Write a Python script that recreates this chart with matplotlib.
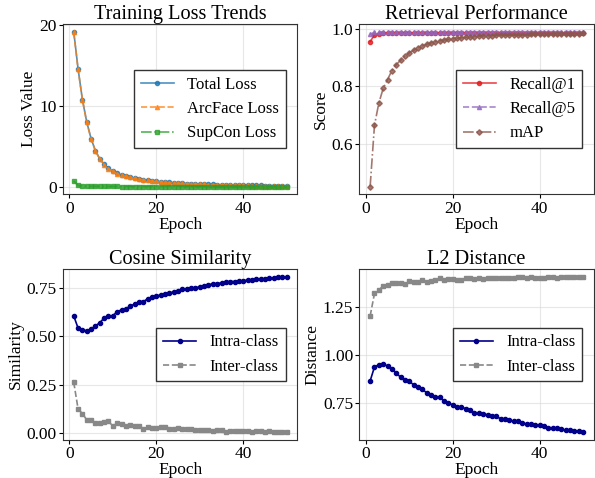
import numpy as np
import matplotlib
matplotlib.use("Agg")
import matplotlib.pyplot as plt

plt.rcParams['font.family'] = ['Liberation Serif', 'DejaVu Serif']

epochs = list(range(1, 51))

total_loss = [19.2, 14.6, 10.8, 8.0, 5.95, 4.45, 3.45, 2.78, 2.27, 1.93,
              1.65, 1.45, 1.30, 1.17, 1.06, 0.96, 0.88, 0.80, 0.73, 0.67,
              0.62, 0.57, 0.53, 0.49, 0.46, 0.43, 0.40, 0.38, 0.35, 0.33,
              0.31, 0.29, 0.28, 0.26, 0.25, 0.24, 0.22, 0.21, 0.20, 0.19,
              0.18, 0.17, 0.16, 0.16, 0.15, 0.14, 0.14, 0.13, 0.13, 0.12]
arcface_loss = [19.1, 14.55, 10.75, 7.96, 5.92, 4.42, 3.42, 2.75, 2.25, 1.91,
                1.63, 1.43, 1.28, 1.15, 1.04, 0.94, 0.86, 0.78, 0.71, 0.65,
                0.60, 0.55, 0.51, 0.47, 0.44, 0.41, 0.38, 0.36, 0.33, 0.31,
                0.29, 0.27, 0.26, 0.24, 0.23, 0.22, 0.20, 0.19, 0.18, 0.17,
                0.16, 0.15, 0.14, 0.14, 0.13, 0.12, 0.12, 0.11, 0.11, 0.10]
supcon_loss = [0.72, 0.16, 0.09, 0.07, 0.06, 0.05, 0.05, 0.04, 0.04, 0.04,
               0.04, 0.03, 0.03, 0.03, 0.03, 0.03, 0.03, 0.03, 0.03, 0.03,
               0.03, 0.03, 0.03, 0.03, 0.02, 0.02, 0.02, 0.02, 0.02, 0.02,
               0.02, 0.02, 0.02, 0.02, 0.02, 0.02, 0.02, 0.02, 0.02, 0.02,
               0.02, 0.02, 0.02, 0.02, 0.02, 0.02, 0.02, 0.02, 0.02, 0.02]

recall1 = [0.956, 0.980, 0.984, 0.985, 0.985, 0.986, 0.986, 0.986, 0.986, 0.986,
           0.986, 0.986, 0.986, 0.986, 0.986, 0.986, 0.986, 0.986, 0.986, 0.986,
           0.986, 0.986, 0.986, 0.986, 0.986, 0.986, 0.986, 0.986, 0.986, 0.986,
           0.986, 0.986, 0.986, 0.986, 0.986, 0.986, 0.986, 0.986, 0.986, 0.986,
           0.986, 0.986, 0.986, 0.986, 0.986, 0.986, 0.986, 0.986, 0.986, 0.986]
recall5 = [0.982, 0.989, 0.990, 0.991, 0.991, 0.991, 0.991, 0.991, 0.991, 0.991,
           0.991, 0.991, 0.991, 0.991, 0.991, 0.991, 0.991, 0.991, 0.991, 0.991,
           0.991, 0.991, 0.991, 0.991, 0.991, 0.991, 0.991, 0.991, 0.991, 0.991,
           0.991, 0.991, 0.991, 0.991, 0.991, 0.991, 0.991, 0.991, 0.991, 0.991,
           0.991, 0.991, 0.991, 0.991, 0.991, 0.991, 0.991, 0.991, 0.991, 0.991]
map_score = [0.451, 0.665, 0.742, 0.793, 0.824, 0.855, 0.876, 0.891, 0.906, 0.917,
             0.926, 0.934, 0.941, 0.947, 0.952, 0.956, 0.959, 0.962, 0.964, 0.966,
             0.968, 0.970, 0.971, 0.972, 0.974, 0.975, 0.976, 0.977, 0.977, 0.978,
             0.979, 0.979, 0.980, 0.980, 0.981, 0.981, 0.981, 0.982, 0.982, 0.982,
             0.983, 0.983, 0.983, 0.983, 0.984, 0.984, 0.984, 0.984, 0.984, 0.985]

cos_intra = [0.606, 0.543, 0.535, 0.528, 0.538, 0.554, 0.571, 0.595, 0.604, 0.607,
             0.628, 0.637, 0.642, 0.658, 0.666, 0.680, 0.680, 0.694, 0.703, 0.708,
             0.715, 0.718, 0.725, 0.730, 0.737, 0.743, 0.744, 0.748, 0.753, 0.755,
             0.763, 0.767, 0.772, 0.773, 0.777, 0.780, 0.784, 0.784, 0.786, 0.788,
             0.791, 0.793, 0.795, 0.796, 0.798, 0.802, 0.803, 0.805, 0.807, 0.807]
cos_inter = [0.263, 0.125, 0.100, 0.068, 0.065, 0.052, 0.052, 0.057, 0.061, 0.035,
             0.050, 0.047, 0.035, 0.043, 0.035, 0.038, 0.019, 0.031, 0.026, 0.024,
             0.031, 0.029, 0.019, 0.019, 0.026, 0.023, 0.021, 0.019, 0.017, 0.014,
             0.017, 0.014, 0.012, 0.014, 0.014, 0.007, 0.009, 0.009, 0.009, 0.012,
             0.009, 0.007, 0.010, 0.012, 0.007, 0.009, 0.007, 0.005, 0.005, 0.005]

l2_intra = [0.866, 0.939, 0.950, 0.953, 0.944, 0.929, 0.908, 0.885, 0.873, 0.866,
            0.845, 0.833, 0.822, 0.805, 0.794, 0.782, 0.784, 0.761, 0.751, 0.742,
            0.733, 0.732, 0.721, 0.713, 0.702, 0.699, 0.696, 0.690, 0.683, 0.682,
            0.670, 0.666, 0.661, 0.657, 0.656, 0.647, 0.643, 0.642, 0.638, 0.637,
            0.630, 0.623, 0.623, 0.620, 0.615, 0.610, 0.611, 0.606, 0.605, 0.601]
l2_inter = [1.203, 1.320, 1.337, 1.360, 1.363, 1.374, 1.375, 1.372, 1.368, 1.386,
            1.379, 1.381, 1.388, 1.382, 1.386, 1.388, 1.398, 1.391, 1.395, 1.393,
            1.389, 1.391, 1.398, 1.398, 1.393, 1.398, 1.397, 1.398, 1.399, 1.401,
            1.399, 1.400, 1.402, 1.400, 1.404, 1.403, 1.402, 1.403, 1.402, 1.401,
            1.402, 1.404, 1.403, 1.402, 1.404, 1.404, 1.405, 1.405, 1.405, 1.405]

fig, axes = plt.subplots(2, 2, figsize=(5.95, 4.78), dpi=100)
plt.subplots_adjust(left=0.106, right=0.998, top=0.95, bottom=0.08, wspace=0.265, hspace=0.44)


def style(ax, title, ylabel):
    ax.set_title(title, fontsize=14.6, pad=3)
    ax.set_xlabel('Epoch', fontsize=12.5, labelpad=0)
    ax.set_ylabel(ylabel, fontsize=12.5, labelpad=2)
    ax.tick_params(labelsize=12.5, length=3, pad=1.5)
    ax.grid(True, color='#dddddd', linewidth=0.8, alpha=0.7)
    for s in ax.spines.values():
        s.set_color('#333333')
    leg = ax.legend(fontsize=12, loc='center right', fancybox=False,
                    edgecolor='#333333', framealpha=1, handlelength=2.0,
                    borderaxespad=0.7)
    leg.get_frame().set_linewidth(1.0)


ms = 3
lw = 1.2
ax = axes[0, 0]
ax.plot(epochs, total_loss, '-', marker='o', color='#1f77b4', ms=ms, lw=lw, label='Total Loss', alpha=0.8)
ax.plot(epochs, arcface_loss, '--', marker='^', color='#ff7f0e', ms=ms, lw=lw, label='ArcFace Loss', alpha=0.8)
ax.plot(epochs, supcon_loss, '-.', marker='s', color='#2ca02c', ms=ms, lw=lw, label='SupCon Loss', alpha=0.8)
ax.set_yticks([0, 10, 20])
style(ax, 'Training Loss Trends', 'Loss Value')

ax = axes[0, 1]
ax.plot(epochs, recall1, '-', marker='o', color='#e41a1c', ms=ms, lw=lw, label='Recall@1', alpha=0.8)
ax.plot(epochs, recall5, '--', marker='^', color='#9467bd', ms=ms, lw=lw, label='Recall@5', alpha=0.8)
ax.plot(epochs, map_score, '-.', marker='D', color='#8c564b', ms=2.8, lw=lw, label='mAP', alpha=0.8)
ax.set_yticks([0.6, 0.8, 1.0])
style(ax, 'Retrieval Performance', 'Score')

ax = axes[1, 0]
ax.plot(epochs, cos_intra, '-', marker='o', color='#00008b', ms=ms, lw=lw, label='Intra-class')
ax.plot(epochs, cos_inter, '--', marker='s', color='#888888', ms=ms, lw=lw, label='Inter-class')
ax.set_yticks([0.0, 0.25, 0.5, 0.75])
style(ax, 'Cosine Similarity', 'Similarity')

ax = axes[1, 1]
ax.plot(epochs, l2_intra, '-', marker='o', color='#00008b', ms=ms, lw=lw, label='Intra-class')
ax.plot(epochs, l2_inter, '--', marker='s', color='#888888', ms=ms, lw=lw, label='Inter-class')
ax.set_yticks([0.75, 1.0, 1.25])
style(ax, 'L2 Distance', 'Distance')

for a in axes.flat:
    a.set_xticks([0, 20, 40])

plt.savefig('out.png', dpi=100)
